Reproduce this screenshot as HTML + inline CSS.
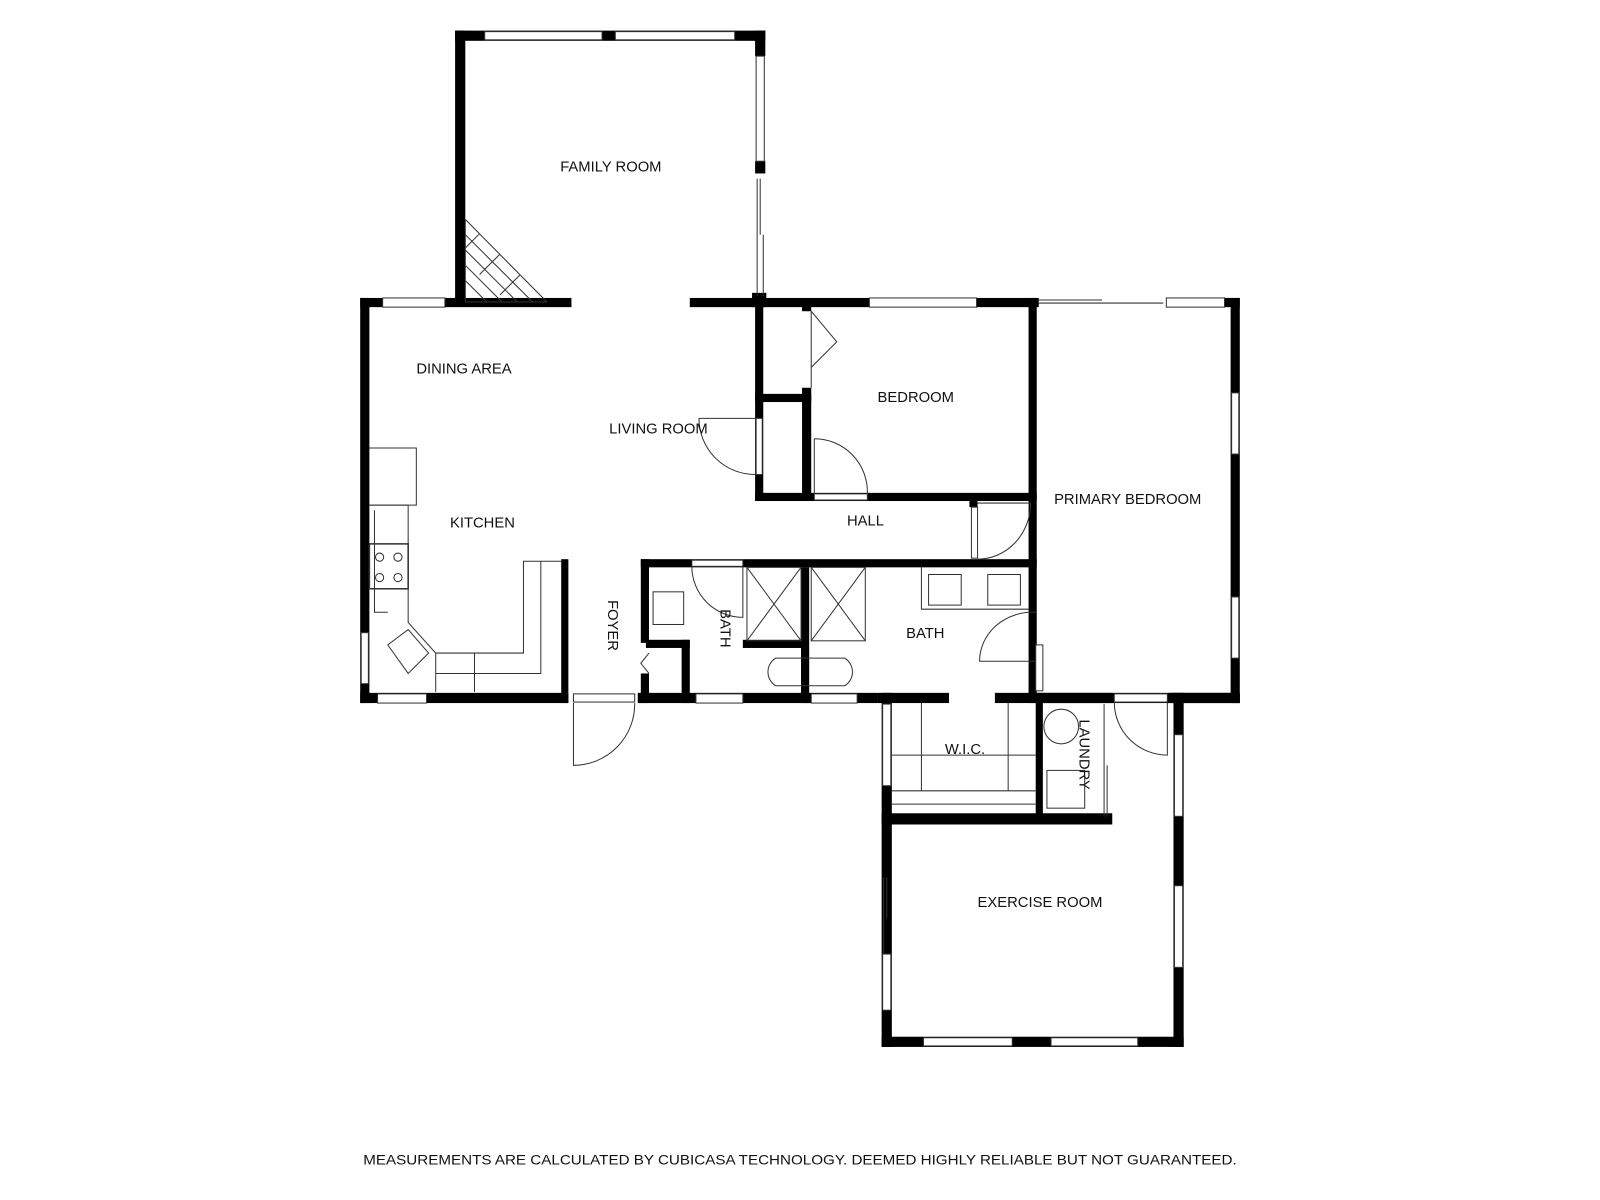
<!DOCTYPE html>
<html><head><meta charset="utf-8"><style>
html,body{margin:0;padding:0;background:#fff;}
svg{display:block;}
text{font-family:"Liberation Sans",sans-serif;font-size:14.5px;fill:#111;}
</style></head><body>
<svg width="1600" height="1200" viewBox="0 0 1568 1176" xmlns="http://www.w3.org/2000/svg">
<rect width="1568" height="1176" fill="#fff"/>
<g fill="#000">
<rect x="446" y="30" width="10" height="267"/>
<rect x="446" y="30" width="304" height="10"/>
<rect x="740" y="30" width="10" height="25"/>
<rect x="740" y="158" width="10" height="12"/>
<rect x="353" y="292" width="207" height="9"/>
<rect x="676" y="292" width="340" height="9"/>
<rect x="737" y="287" width="14" height="14"/>
<rect x="1008" y="292" width="10" height="9"/>
<rect x="1200" y="292" width="15" height="9"/>
<rect x="353" y="292" width="9" height="397"/>
<rect x="353" y="679" width="204" height="10"/>
<rect x="625" y="679" width="235" height="10"/>
<rect x="860" y="679" width="70" height="10"/>
<rect x="975" y="679" width="115" height="10"/>
<rect x="1145" y="679" width="70" height="10"/>
<rect x="1206" y="292" width="9" height="397"/>
<rect x="1015" y="679" width="200" height="10"/>
<rect x="740" y="297" width="8" height="194"/>
<rect x="740" y="483" width="276" height="8"/>
<rect x="1008" y="297" width="8" height="253"/>
<rect x="786" y="297" width="9" height="8"/>
<rect x="786" y="380" width="9" height="110"/>
<rect x="740" y="386" width="55" height="8"/>
<rect x="950" y="491" width="8" height="6"/>
<rect x="628" y="548" width="388" height="8"/>
<rect x="1008" y="548" width="8" height="141"/>
<rect x="628" y="548" width="8" height="82"/>
<rect x="628" y="660" width="8" height="29"/>
<rect x="633" y="627" width="43" height="8"/>
<rect x="668" y="627" width="8" height="62"/>
<rect x="728" y="627" width="62" height="8"/>
<rect x="785" y="556" width="8" height="133"/>
<rect x="550" y="548" width="7" height="141"/>
<rect x="864" y="679" width="10" height="347"/>
<rect x="864" y="797" width="226" height="11"/>
<rect x="1015" y="685" width="7" height="120"/>
<rect x="1150" y="679" width="10" height="347"/>
<rect x="864" y="1016" width="296" height="10"/>
</g>
<g fill="#fff" stroke="#333" stroke-width="1">
<rect x="475" y="31" width="115" height="8"/>
<rect x="603" y="31" width="117" height="8"/>
<rect x="741" y="55" width="8" height="103"/>
<rect x="375" y="292" width="61" height="9"/>
<rect x="852" y="292" width="105" height="9"/>
<rect x="1143" y="292" width="57" height="9"/>
<rect x="354" y="620" width="7" height="50"/>
<rect x="370" y="680" width="48" height="9"/>
<rect x="682" y="680" width="46" height="9"/>
<rect x="795" y="680" width="45" height="9"/>
<rect x="1207" y="385" width="7" height="60"/>
<rect x="1207" y="585" width="7" height="60"/>
<rect x="865" y="690" width="8" height="80"/>
<rect x="865" y="935" width="8" height="55"/>
<rect x="1151" y="720" width="8" height="80"/>
<rect x="1151" y="868" width="8" height="80"/>
<rect x="905" y="1017" width="87" height="8"/>
<rect x="1030" y="1017" width="85" height="8"/>
<rect x="1015" y="632" width="7" height="45"/>
<rect x="741" y="410" width="6" height="55"/>
<rect x="798" y="484" width="52" height="6"/>
<rect x="1092" y="680" width="52" height="8"/>
<rect x="562" y="680" width="60" height="8"/>
<rect x="678" y="549" width="50" height="6"/>
<rect x="952" y="497" width="6" height="50"/>
</g>
<g fill="none" stroke="#333" stroke-width="1">
<path d="M742 175 V290 M745 175 V230 M748 230 V290"/>
<path d="M1018 294 H1080 M1080 297 H1140 M1018 297 H1080"/>
<path d="M866 860 V935 M869 860 V900"/>
<path d="M1082 690 V800 M1085 750 V800"/>
<path d="M456 215 L536 296 M456 230 L522 296 M456 245 L507 296 M456 260 L492 296 M456 275 L477 296 M470 229 L456 243 M490 249 L470 269 M510 269 L490 289 M456 215 V296 H536"/>
<path d="M740 410 H685 A55 55 0 0 0 740 465"/>
<path d="M798 430 V484 M798 430 A52 52 0 0 1 850 484"/>
<path d="M958 493 H1010 A52 55 0 0 1 958 548"/>
<path d="M1015 600 A52 48 0 0 0 960 648 H1015"/>
<path d="M678 555 A50 50 0 0 0 728 605 V555"/>
<path d="M562 689 V750 A60 60 0 0 0 622 689"/>
<path d="M1092 689 A52 52 0 0 0 1144 740 V689"/>
<path d="M795 305 L820 335 L795 360 M795 305 V380"/>
<path d="M636 640 L628 650 L636 660"/>
<path d="M362 439 H408 V495 H362"/>
<path d="M362 495 H400 V610 L427 640 H513 V550 H550"/>
<path d="M367 500 V600 H380 M530 550 V660 H427 M465 640 V678 M427 640 V678"/>
<rect x="362" y="533" width="38" height="44" stroke-width="1.5"/>
<circle cx="372" cy="546" r="4"/><circle cx="390" cy="546" r="4"/>
<circle cx="372" cy="566" r="4"/><circle cx="390" cy="566" r="4"/>
<path d="M380 632 L400 617 L420 640 L400 660 Z"/>
<rect x="640" y="580" width="30" height="32"/>
<rect x="732" y="556" width="53" height="72"/>
<path d="M732 556 L785 628 M785 556 L732 628"/>
<rect x="795" y="556" width="53" height="72"/>
<path d="M795 556 L848 628 M848 556 L795 628"/>
<path d="M760 645 H828 A16 16 0 0 1 828 672 H760 A16 16 0 0 1 760 645 Z"/>
<path d="M903 556 V597 H1008"/>
<rect x="910" y="563" width="32" height="30"/><rect x="968" y="563" width="32" height="30"/>
<path d="M874 740 H1015 M874 775 H1015 M874 788 H1015 M903 689 V775 M988 689 V775"/>
<circle cx="1040" cy="712" r="17"/>
<rect x="1026" y="755" width="37" height="37"/>
</g>
<text x="549" y="168">FAMILY ROOM</text>
<text x="408" y="366">DINING AREA</text>
<text x="597" y="425">LIVING ROOM</text>
<text x="860" y="394">BEDROOM</text>
<text x="441" y="517">KITCHEN</text>
<text x="830" y="515">HALL</text>
<text x="1033" y="494">PRIMARY BEDROOM</text>
<text x="888" y="625">BATH</text>
<text x="926" y="739">W.I.C.</text>
<text x="958" y="889">EXERCISE ROOM</text>
<text transform="translate(596,588) rotate(90)">FOYER</text>
<text transform="translate(706,597) rotate(90)">BATH</text>
<text transform="translate(1058,705) rotate(90)">LAUNDRY</text>
<text x="356" y="1141" style="font-size:13.2px" textLength="856" lengthAdjust="spacingAndGlyphs">MEASUREMENTS ARE CALCULATED BY CUBICASA TECHNOLOGY. DEEMED HIGHLY RELIABLE BUT NOT GUARANTEED.</text>
</svg>
</body></html>
